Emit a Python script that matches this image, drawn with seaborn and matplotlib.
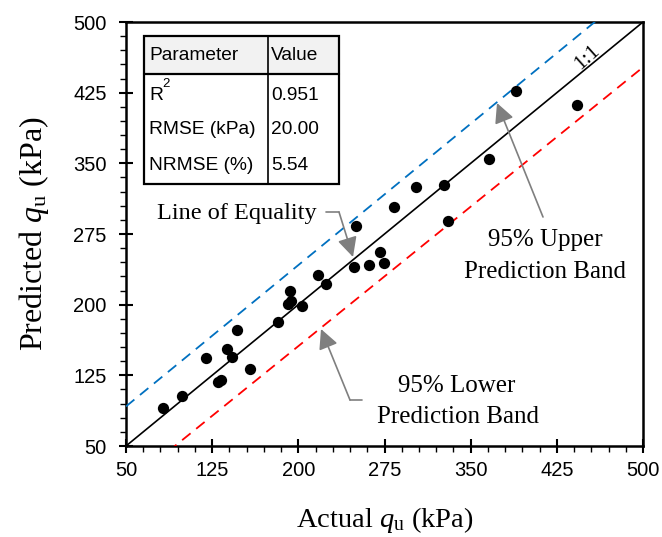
import numpy as np
import pandas as pd
import matplotlib
matplotlib.use("Agg")
import matplotlib.pyplot as plt
import seaborn as sns
from matplotlib.patches import Rectangle
from matplotlib.lines import Line2D

# ---------------- data ----------------
actual = [82.5, 99.0, 119.9, 130.3, 132.4, 138.2, 142.3, 146.4, 157.9, 182.6,
          192.7, 191.4, 193.6, 203.2, 216.7, 224.1, 249.9, 248.7, 261.5, 270.8,
          274.3, 283.5, 302.7, 327.2, 330.0, 365.7, 389.2, 442.3]
predicted = [90.6, 103.4, 143.1, 118.2, 120.4, 152.9, 144.1, 173.1, 131.7, 181.6,
             214.5, 200.2, 203.9, 198.6, 231.5, 221.9, 283.5, 239.7, 242.1, 256.2,
             244.2, 303.3, 324.6, 326.5, 289.1, 354.6, 426.8, 411.6]
line_x = [50, 500]
equality_y = [50, 500]
upper_y = [92, 542]
lower_y = [8, 452]
ticks = [50, 125, 200, 275, 350, 425, 500]
table_header = ["Parameter", "Value"]
table_params = ["R", "RMSE (kPa)", "NRMSE (%)"]
table_values = ["0.951", "20.00", "5.54"]

# ---------------- style ----------------
sns.set_theme(style="ticks")
plt.rcParams['font.family'] = ['Liberation Sans', 'DejaVu Sans']
plt.rcParams['mathtext.fontset'] = 'custom'
plt.rcParams['mathtext.rm'] = 'Liberation Serif'
plt.rcParams['mathtext.it'] = 'Liberation Serif:italic'

W, H = 662, 537
fig = plt.figure(figsize=(W / 100, H / 100), dpi=100)
ax = fig.add_axes([126 / W, 1 - 446 / H, (643 - 126) / W, (446 - 22) / H])

def fpx(x, y):
    return (x / W, 1 - y / H)

def dpx(x, y):
    return (50 + (x - 126) * 450 / 517, 500 - (y - 22) * 450 / 424)

# lines
sns.lineplot(x=line_x, y=equality_y, ax=ax, color='black', linewidth=1.2, zorder=3)
l_up = sns.lineplot(x=line_x, y=upper_y, ax=ax, color='#0070C0', linewidth=1.3, zorder=3).lines[-1]
l_up.set_dashes((6, 4))
l_lo = sns.lineplot(x=line_x, y=lower_y, ax=ax, color='#FF0000', linewidth=1.3, zorder=3).lines[-1]
l_lo.set_dashes((6, 4))

# points
sns.scatterplot(x=actual, y=predicted, ax=ax, color='black', s=66,
                edgecolor='black', linewidth=0, zorder=5)

ax.set_xlim(50, 500)
ax.set_ylim(50, 500)
ax.set_xticks(ticks)
ax.set_yticks(ticks)
ax.set_xticks(np.arange(50, 501, 15), minor=True)
ax.set_yticks(np.arange(50, 501, 15), minor=True)
ax.tick_params(which='major', direction='inout', length=10, width=1.5, color='black',
               labelsize=14.5, labelcolor='black')
ax.tick_params(axis='x', which='major', pad=6)
ax.tick_params(axis='y', which='major', pad=9)
ax.tick_params(which='minor', direction='out', length=4, width=1.0, color='black')
for s in ax.spines.values():
    s.set_color('black')
    s.set_linewidth(1.8)
ax.grid(False)

ax.set_xlabel(r'Actual $q_{\mathrm{u}}$ (kPa)', fontsize=20.5, family='Liberation Serif',
              color='black', labelpad=18)
ax.set_ylabel(r'Predicted $q_{\mathrm{u}}$ (kPa)', fontsize=23, family='Liberation Serif',
              color='black', labelpad=16)

# ---------------- table ----------------
tx0, tx1, ty0, ty1, tyh, txc = 143.5, 338.5, 36, 184, 74, 267.5
tr = fig.transFigure
fig.add_artist(Rectangle(fpx(tx0, ty1), (tx1 - tx0) / W, (ty1 - ty0) / H, transform=tr,
                         facecolor='white', edgecolor='none', zorder=10))
fig.add_artist(Rectangle(fpx(tx0, tyh), (tx1 - tx0) / W, (tyh - ty0) / H, transform=tr,
                         facecolor='#F2F2F2', edgecolor='none', zorder=10))
fig.add_artist(Rectangle(fpx(tx0, ty1), (tx1 - tx0) / W, (ty1 - ty0) / H, transform=tr,
                         facecolor='none', edgecolor='black', linewidth=1.6, zorder=11))
fig.add_artist(Line2D([tx0 / W, tx1 / W], [1 - tyh / H, 1 - tyh / H], transform=tr,
                      color='black', linewidth=1.6, zorder=11))
fig.add_artist(Line2D([txc / W, txc / W], [1 - ty0 / H, 1 - ty1 / H], transform=tr,
                      color='black', linewidth=1.2, zorder=11))
tfs = 13.8
fig.text(*fpx(149, 55.5), table_header[0], fontsize=tfs, va='center', ha='left', zorder=12, color='black')
fig.text(*fpx(271, 55.5), table_header[1], fontsize=tfs, va='center', ha='left', zorder=12, color='black')
for yy, p, v in zip([95, 129.5, 165], table_params, table_values):
    fig.text(*fpx(149, yy), p, fontsize=tfs, va='center', ha='left', zorder=12, color='black')
    fig.text(*fpx(271, yy), v, fontsize=tfs, va='center', ha='left', zorder=12, color='black')
fig.text(*fpx(162, 84), '2', fontsize=9.5, va='center', ha='left', zorder=12, color='black')

# ---------------- annotations ----------------
gray = '#7F7F7F'
afs = 17.5
serif = 'Liberation Serif'
astyle = dict(arrowstyle='-|>,head_length=0.8,head_width=0.4', color=gray,
              linewidth=1.2, shrinkA=0, shrinkB=0, mutation_scale=15)
ax.text(*dpx(237, 213), 'Line of Equality', fontsize=afs, family=serif, ha='center', va='center', color='black')
ax.plot(*zip(dpx(326, 212), dpx(339, 212)), color=gray, linewidth=1.2)
ax.annotate('', xy=dpx(353, 257), xytext=dpx(339, 212), arrowprops=astyle)

ax.text(*dpx(545, 240), '95% Upper', fontsize=afs + 0.5, family=serif, ha='center', va='center', color='black')
ax.text(*dpx(545, 272), 'Prediction Band', fontsize=afs + 0.5, family=serif, ha='center', va='center', color='black')
ax.annotate('', xy=dpx(497, 103), xytext=dpx(543, 217), arrowprops=astyle)

ax.text(*dpx(457, 386), '95% Lower', fontsize=afs + 0.5, family=serif, ha='center', va='center', color='black')
ax.text(*dpx(458, 417), 'Prediction Band', fontsize=afs + 0.5, family=serif, ha='center', va='center', color='black')
ax.plot(*zip(dpx(362, 400), dpx(350, 400)), color=gray, linewidth=1.2)
ax.annotate('', xy=dpx(321, 329), xytext=dpx(350, 400), arrowprops=astyle)

ax.text(*dpx(587, 58), '1:1', fontsize=15.5, family=serif, ha='center', va='center',
        rotation=42, color='black')

fig.savefig('out.png', dpi=100, facecolor='white')
